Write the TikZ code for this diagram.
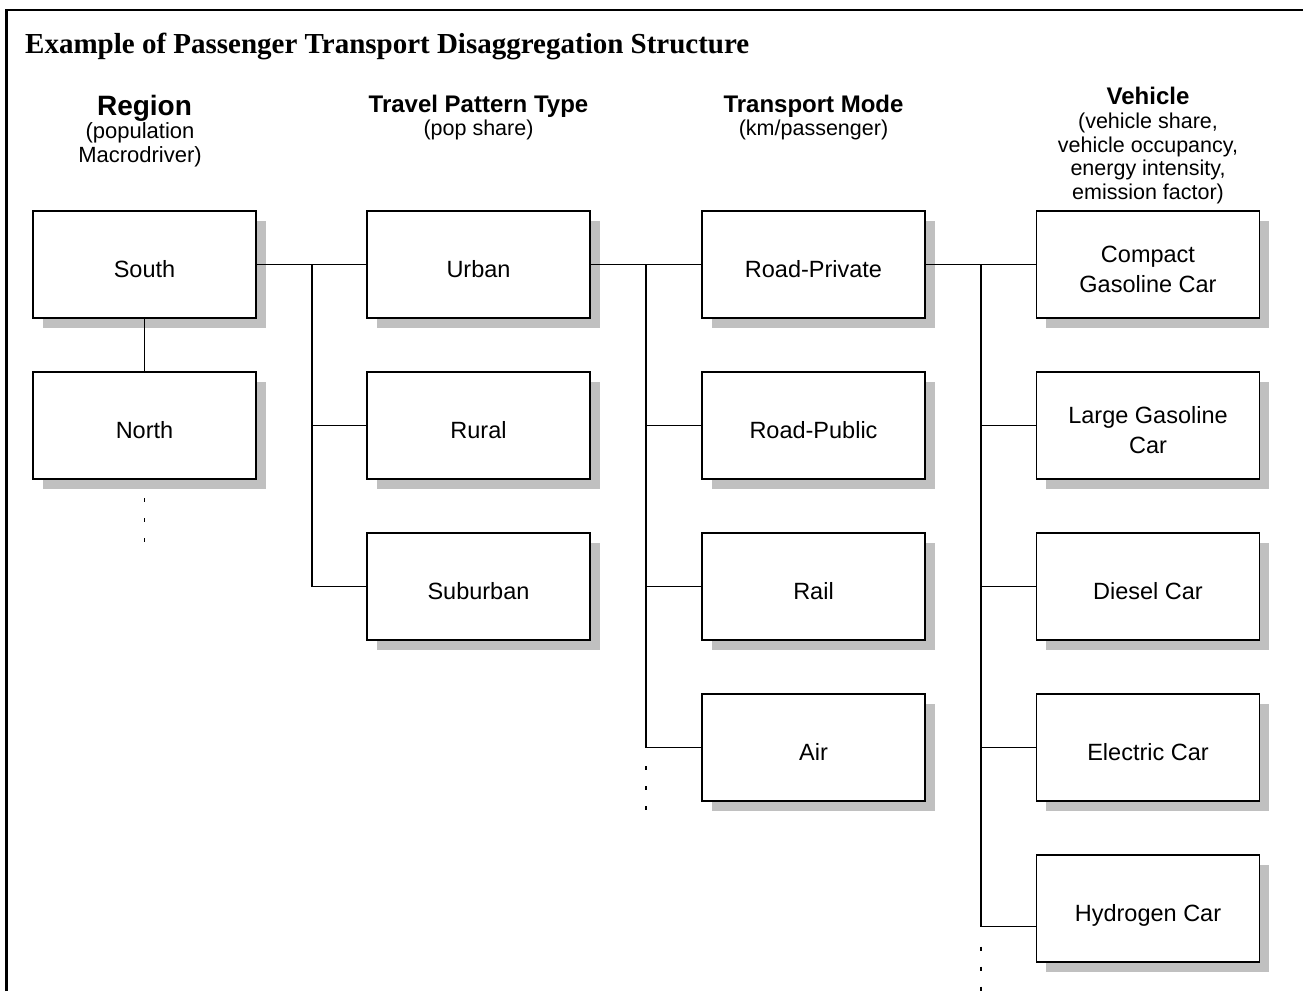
\documentclass[tikz,border=0pt]{standalone}
\usepackage{fontspec}
\setmainfont{Liberation Sans}
\newfontfamily\titlefont{Liberation Serif}
\usetikzlibrary{shadows}
\definecolor{shadowgray}{RGB}{192,192,192}
\newcommand{\mybox}[3]{\node[boxst] (#1) at (#2) {}; \node[boxtxt] (#1t) at (#1.center) {#3};}
\begin{document}
\begin{tikzpicture}[x=1pt,y=-1pt,
  boxst/.style={draw=black, line width=1.5pt, fill=white, minimum width=223pt, minimum height=107pt,
    inner sep=0pt, outer sep=0pt,
    drop shadow={shadow xshift=9.5pt, shadow yshift=-9.5pt, fill=shadowgray, opacity=1}},
  boxtxt/.style={font=\fontsize{23.5}{30}\selectfont, align=center, text depth=0pt, inner sep=0pt, yshift=-4.5pt},
  hdr/.style={font=\fontsize{24}{28}\selectfont\bfseries, anchor=base, inner sep=0pt},
  sub/.style={font=\fontsize{21.5}{23.5}\selectfont, align=center, anchor=base, inner sep=0pt},
  feed/.style={line width=1.8pt},
  bus/.style={line width=1.5pt},
  conn/.style={line width=1.1pt},
  dotst/.style={line width=1.2pt, dash pattern=on 4pt off 16pt},
  frame/.style={line width=2.5pt}
]
\useasboundingbox (0,0) rectangle (1303,991);
\draw[frame] (6.5,991) -- (6.5,10) -- (1303,10);

\node[anchor=base west, font=\titlefont\fontsize{29}{34}\selectfont\bfseries, inner sep=0pt] (title) at (25,53)
  {Example of Passenger Transport Disaggregation Structure};

% headers (multi-line nodes: base = baseline of the last line)
\node[hdr, font=\fontsize{28}{30}\selectfont\bfseries] (hRegion) at (144.5,115) {Region};
\node[sub, font=\fontsize{22}{23.5}\selectfont] (sRegion) at (140,162) {(population\\Macrodriver)};
\node[hdr] (hTravel) at (478.5,112) {Travel Pattern Type};
\node[sub] (sTravel) at (478.5,135) {(pop share)};
\node[hdr] (hMode) at (813.5,112) {Transport Mode};
\node[sub] (sMode) at (813.5,135) {(km/passenger)};
\node[hdr] (hVeh) at (1148,104) {Vehicle};
\node[sub] (sVeh) at (1148,199) {(vehicle share,\\vehicle occupancy,\\energy intensity,\\emission factor)};

% boxes
\mybox{south}{144.5,264.5}{South}
\mybox{north}{144.5,425.5}{North}
\mybox{urban}{478.5,264.5}{Urban}
\mybox{rural}{478.5,425.5}{Rural}
\mybox{suburban}{478.5,586.5}{Suburban}
\mybox{rpriv}{813.5,264.5}{Road-Private}
\mybox{rpub}{813.5,425.5}{Road-Public}
\mybox{rail}{813.5,586.5}{Rail}
\mybox{air}{813.5,747.5}{Air}
\mybox{compact}{1148,264.5}{Compact\\Gasoline Car}
\mybox{large}{1148,425.5}{Large Gasoline\\Car}
\mybox{diesel}{1148,586.5}{Diesel Car}
\mybox{electric}{1148,747.5}{Electric Car}
\mybox{hydro}{1148,908.5}{Hydrogen Car}

% region column
\draw[conn] (south.south) -- (north.north);
\draw[dotst] ([yshift=-19pt]north.south) -- ++(0,44);

% bus 1
\coordinate (b1) at (312,264.5);
\draw[feed] (south.east) -- (b1);
\draw[conn] (b1) -- (urban.west);
\draw[bus] (b1) -- (b1 |- suburban.west);
\draw[conn] (b1 |- rural.west) -- (rural.west);
\draw[conn] (b1 |- suburban.west) -- (suburban.west);

% bus 2
\coordinate (b2) at (646,264.5);
\coordinate (b2end) at (b2 |- air.west);
\draw[feed] (urban.east) -- (b2);
\draw[conn] (b2) -- (rpriv.west);
\draw[bus] (b2) -- (b2end);
\draw[conn] (b2 |- rpub.west) -- (rpub.west);
\draw[conn] (b2 |- rail.west) -- (rail.west);
\draw[conn] (b2end) -- (air.west);
\draw[dotst] ([yshift=-18.5pt]b2end) -- ++(0,44);

% bus 3
\coordinate (b3) at (981,264.5);
\coordinate (hin) at ([yshift=-18pt]hydro.west);
\coordinate (b3end) at (b3 |- hin);
\draw[feed] (rpriv.east) -- (b3);
\draw[conn] (b3) -- (compact.west);
\draw[bus] (b3) -- (b3end);
\draw[conn] (b3 |- large.west) -- (large.west);
\draw[conn] (b3 |- diesel.west) -- (diesel.west);
\draw[conn] (b3 |- electric.west) -- (electric.west);
\draw[conn] (b3end) -- (hin);
\draw[dotst] ([yshift=-20pt]b3end) -- ++(0,44);
\end{tikzpicture}
\end{document}
